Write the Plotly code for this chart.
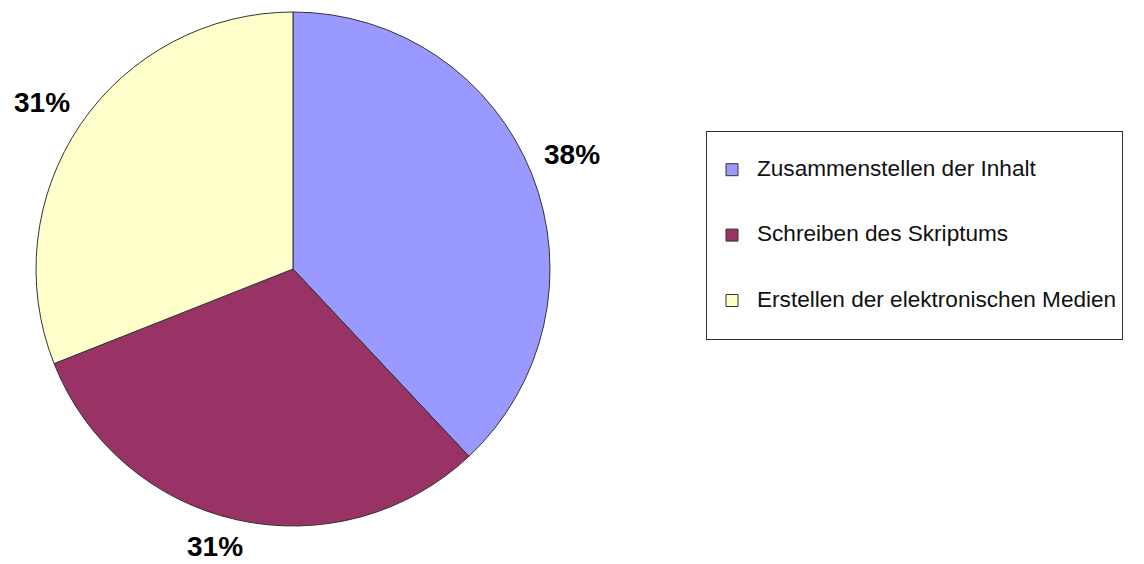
import math
import plotly.graph_objects as go

categories = ["Zusammenstellen der Inhalt", "Schreiben des Skriptums", "Erstellen der elektronischen Medien"]
values = [38, 31, 31]
colors = ["#9999FF", "#993366", "#FFFFCC"]

W, H = 1144, 564
CX, CY, R = 293, 269, 257
GAP = 12            # distance of label box from the pie edge
BOX_W, BOX_H = 58, 30

legend_labels = [
    "&nbsp;<br><span style='font-size:22.6px'>" + c + "</span><br>&nbsp;" for c in categories
]

fig = go.Figure(go.Pie(
    labels=legend_labels,
    values=values,
    sort=False,
    direction="clockwise",
    rotation=0,
    marker=dict(colors=colors, line=dict(color="#333333", width=1)),
    textinfo="none",
    domain=dict(x=[(CX - R) / W, (CX + R) / W], y=[1 - (CY + R) / H, 1 - (CY - R) / H]),
    hovertemplate="%{percent:.0%}<extra></extra>",
))


def clamp(v):
    return max(-1.0, min(1.0, v))


# percentage labels placed outside each slice at its mid-angle
total = sum(values)
cum = 0
for v in values:
    mid = (cum + v / 2) / total * 2 * math.pi
    cum += v
    ux, uy = math.sin(mid), -math.cos(mid)
    px = CX + (R + GAP) * ux + BOX_W / 2 * clamp(ux * 3)
    py = CY + (R + GAP) * uy + BOX_H / 2 * clamp(uy * 3)
    fig.add_annotation(
        x=px / W, y=1 - py / H, xref="paper", yref="paper",
        text=f"{round(v / total * 100)}%", showarrow=False,
        font=dict(family="Liberation Sans, Arial", size=28, color="black", weight="bold"),
        xanchor="center", yanchor="middle",
    )

fig.update_layout(
    width=W, height=H,
    margin=dict(l=0, r=0, t=0, b=0),
    paper_bgcolor="white",
    plot_bgcolor="white",
    showlegend=True,
    legend=dict(
        x=706 / W, y=1 - 131 / H, xanchor="left", yanchor="top",
        bgcolor="white", bordercolor="#333333", borderwidth=1,
        font=dict(family="Liberation Sans, Arial", size=16, color="#111111"),
        itemwidth=40,
        itemclick=False,
    ),
)

fig.write_html("out.html")
